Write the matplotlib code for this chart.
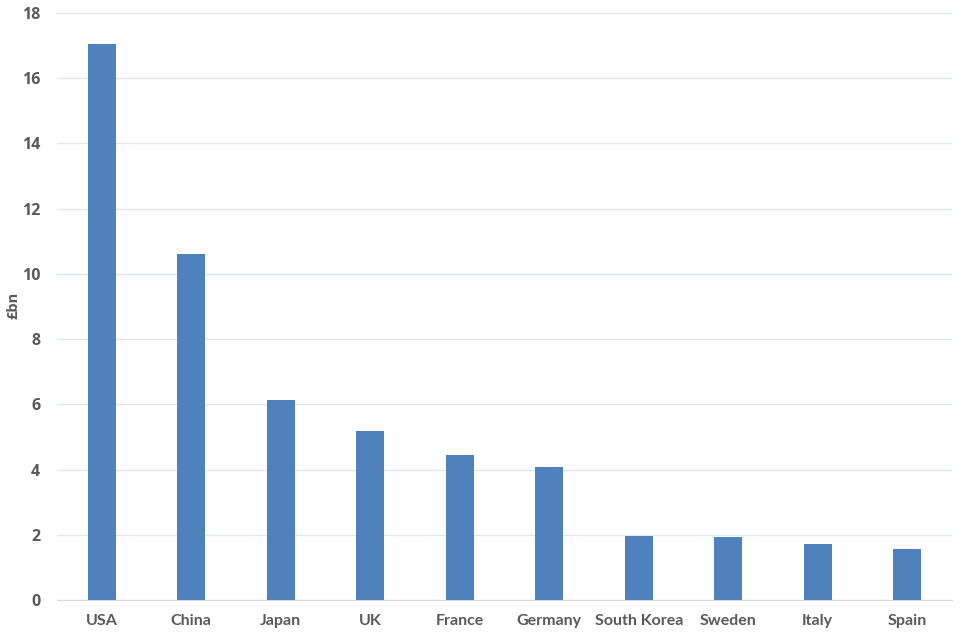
import matplotlib.pyplot as plt
import numpy as np

countries = ["USA", "China", "Japan", "UK", "France", "Germany",
             "South Korea", "Sweden", "Italy", "Spain"]
values_bn = [17.05, 10.62, 6.13, 5.18, 4.45, 4.08, 1.97, 1.92, 1.72, 1.57]
y_ticks = [0, 2, 4, 6, 8, 10, 12, 14, 16, 18]

BAR = "#4f81bd"
TXT = "#595959"

plt.rcParams["font.family"] = ["Lato", "DejaVu Sans"]

fig = plt.figure(figsize=(9.6, 6.4), dpi=100)
ax = fig.add_axes([57 / 960, 40 / 640, 895 / 960, 587 / 640])

x = np.arange(len(countries))
ax.bar(x, values_bn, width=0.31, color=BAR, zorder=3)

ax.set_xlim(-0.5, len(countries) - 0.5)
ax.set_ylim(0, 18)
ax.set_yticks(y_ticks)
ax.set_yticklabels([str(t) for t in y_ticks], fontweight="bold",
                   family=["Open Sans", "DejaVu Sans"])
ax.set_xticks(x)
ax.set_xticklabels(countries, fontweight="bold")

ax.yaxis.grid(True, color="#dce8ec", lw=1.0, zorder=0)
for side in ["top", "right", "left"]:
    ax.spines[side].set_visible(False)
ax.spines["bottom"].set_color("#d9d9d9")
ax.tick_params(axis="both", length=0, labelsize=11.5, labelcolor=TXT)
ax.tick_params(axis="x", pad=10)
ax.tick_params(axis="y", pad=12)

fig.text(13 / 960, 1 - 305 / 640, "£bn", rotation=90, ha="center",
         va="center", fontsize=10.5, color=TXT, fontweight="bold",
         family=["Open Sans", "DejaVu Sans"])

fig.savefig("out.png", dpi=100)
